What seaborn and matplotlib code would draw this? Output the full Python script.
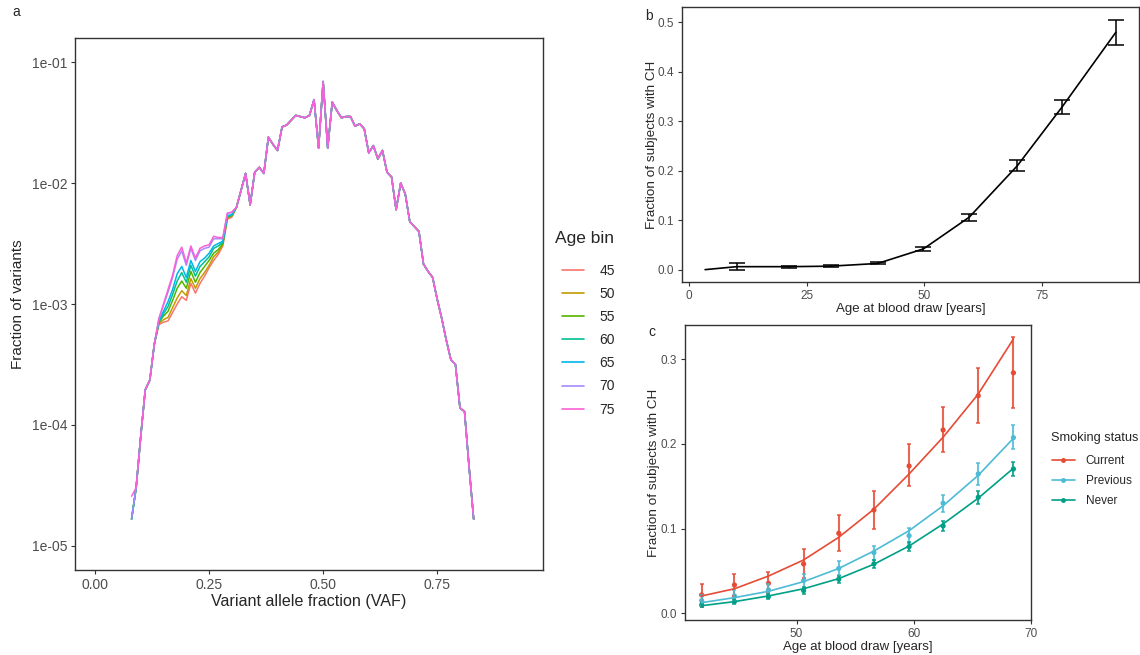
import matplotlib
matplotlib.use("Agg")
import matplotlib.pyplot as plt
import numpy as np
import pandas as pd
import seaborn as sns
from matplotlib.lines import Line2D
from matplotlib.ticker import FuncFormatter

sns.set_theme(style="ticks")
plt.rcParams["font.family"] = ["Liberation Sans", "DejaVu Sans"]

# ---- panel a: VAF spectrum per age bin (values as log10 fraction) ----
AGE_BINS = ["45", "50", "55", "60", "65", "70", "75"]
AGE_COLORS = ["#F8766D", "#C49A00", "#53B400", "#00C094", "#00B6EB", "#A58AFF", "#FB61D7"]
VAF = np.arange(8, 84) / 100
START_LOG = [-4.78, -4.78, -4.78, -4.78, -4.78, -4.78, -4.59]  # VAF 0.08
HEAD_LOG = [-4.52, -4.10, -3.71, -3.63, -3.33]  # VAF 0.09-0.13, shared
EARLY_LOG = {  # VAF 0.14-0.30
    "45": [-3.17, -3.15, -3.14, -3.07, -3.00, -2.94, -2.97, -2.83, -2.91, -2.83, -2.77, -2.70, -2.64, -2.59, -2.52, -2.30, -2.28],
    "50": [-3.16, -3.13, -3.11, -3.03, -2.95, -2.89, -2.93, -2.79, -2.87, -2.79, -2.74, -2.68, -2.61, -2.57, -2.51, -2.29, -2.27],
    "55": [-3.15, -3.10, -3.06, -2.97, -2.87, -2.81, -2.87, -2.73, -2.82, -2.74, -2.69, -2.64, -2.58, -2.55, -2.50, -2.28, -2.27],
    "60": [-3.15, -3.08, -3.02, -2.92, -2.81, -2.74, -2.82, -2.68, -2.77, -2.69, -2.65, -2.61, -2.54, -2.52, -2.49, -2.28, -2.26],
    "65": [-3.14, -3.06, -2.98, -2.88, -2.75, -2.69, -2.78, -2.64, -2.73, -2.65, -2.62, -2.58, -2.52, -2.50, -2.48, -2.27, -2.26],
    "70": [-3.12, -3.01, -2.90, -2.78, -2.63, -2.56, -2.68, -2.54, -2.64, -2.56, -2.54, -2.53, -2.46, -2.46, -2.46, -2.25, -2.24],
    "75": [-3.12, -3.00, -2.88, -2.76, -2.60, -2.53, -2.66, -2.52, -2.62, -2.54, -2.52, -2.51, -2.44, -2.45, -2.45, -2.25, -2.24],
}
TAIL_LOG = [  # VAF 0.31-0.83, shared
    -2.20, -2.06, -1.92, -2.18, -1.91, -1.87, -1.92, -1.62, -1.68, -1.73,
    -1.535, -1.52, -1.48, -1.44, -1.45, -1.46, -1.44, -1.31, -1.71, -1.16,
    -1.71, -1.33, -1.40, -1.46, -1.45, -1.45, -1.53, -1.51, -1.55, -1.75,
    -1.69, -1.80, -1.73, -1.91, -1.95, -2.22, -2.00, -2.09, -2.32, -2.36,
    -2.40, -2.67, -2.73, -2.78, -2.96, -3.12, -3.30, -3.46, -3.50, -3.86,
    -3.89, -4.35, -4.78,
]

# ---- panel b: CH prevalence by age ----
B_AGE = [3.5, 10.2, 21.3, 30.1, 40.1, 49.8, 59.5, 69.7, 79.2, 90.6]
B_FRAC = [0.0, 0.006, 0.006, 0.007, 0.0125, 0.042, 0.106, 0.210, 0.329, 0.480]
B_ERR = [0.0, 0.007, 0.002, 0.002, 0.002, 0.0045, 0.0067, 0.011, 0.0135, 0.025]

# ---- panel c: CH prevalence by smoking status ----
C_AGE = [41.9, 44.7, 47.6, 50.6, 53.6, 56.6, 59.6, 62.5, 65.5, 68.5]
SMOKING = ["Current", "Previous", "Never"]
SMOKING_COLORS = ["#E64B35", "#4DBBD5", "#00A087"]
C_POINT = {
    "Current": [0.0217, 0.0335, 0.0354, 0.0583, 0.0945, 0.122, 0.174, 0.2165, 0.257, 0.284],
    "Previous": [0.015, 0.0205, 0.0276, 0.0386, 0.053, 0.0717, 0.0917, 0.130, 0.1646, 0.2075],
    "Never": [0.0098, 0.0138, 0.0197, 0.0268, 0.0402, 0.0583, 0.0787, 0.1031, 0.137, 0.1705],
}
C_LOW = {
    "Current": [0.008, 0.020, 0.024, 0.042, 0.074, 0.100, 0.150, 0.190, 0.225, 0.243],
    "Previous": [0.009, 0.014, 0.021, 0.030, 0.045, 0.063, 0.083, 0.120, 0.152, 0.194],
    "Never": [0.0075, 0.011, 0.0165, 0.023, 0.036, 0.054, 0.074, 0.097, 0.129, 0.162],
}
C_HIGH = {
    "Current": [0.035, 0.0465, 0.049, 0.076, 0.116, 0.145, 0.200, 0.244, 0.290, 0.326],
    "Previous": [0.022, 0.027, 0.035, 0.047, 0.062, 0.080, 0.101, 0.140, 0.177, 0.222],
    "Never": [0.012, 0.017, 0.023, 0.031, 0.044, 0.063, 0.084, 0.109, 0.145, 0.179],
}
C_FIT = {
    "Current": [0.0205, 0.029, 0.044, 0.063, 0.0898, 0.123, 0.1646, 0.208, 0.259, 0.324],
    "Previous": [0.0126, 0.0185, 0.026, 0.0374, 0.053, 0.0736, 0.0976, 0.127, 0.163, 0.2067],
    "Never": [0.009, 0.0138, 0.0205, 0.029, 0.041, 0.058, 0.0795, 0.1055, 0.136, 0.1713],
}

W, H = 1140, 655
fig = plt.figure(figsize=(W / 100, H / 100), dpi=100)


def axes_at(left, top, right, bottom):
    return fig.add_axes([left / W, 1 - bottom / H, (right - left) / W, (bottom - top) / H])


def style(ax, tick_size):
    for s in ax.spines.values():
        s.set_visible(True)
        s.set_color("#333333")
        s.set_linewidth(1.0)
    ax.tick_params(colors="#333333", labelcolor="#4D4D4D", labelsize=tick_size,
                   length=3, width=0.8, pad=2.5)


# panel a
rows = []
for age in AGE_BINS:
    vals = [START_LOG[AGE_BINS.index(age)]] + HEAD_LOG + EARLY_LOG[age] + TAIL_LOG
    for v, lv in zip(VAF, vals):
        rows.append({"VAF": v, "Fraction": 10 ** lv, "Age bin": age})
df_a = pd.DataFrame(rows)

ax_a = axes_at(75, 38, 543, 570)
sns.lineplot(data=df_a, x="VAF", y="Fraction", hue="Age bin", palette=AGE_COLORS,
             linewidth=1.1, ax=ax_a, legend=False)
ax_a.set_yscale("log")
ax_a.set_ylim(10 ** -5.2, 10 ** -0.8)
ax_a.set_xlim(-0.044, 0.982)
ax_a.set_xticks([0, 0.25, 0.5, 0.75])
ax_a.set_xticklabels(["0.00", "0.25", "0.50", "0.75"])
ax_a.set_yticks([1e-5, 1e-4, 1e-3, 1e-2, 1e-1])
ax_a.yaxis.set_major_formatter(FuncFormatter(lambda v, p: f"{v:.0e}"))
ax_a.minorticks_off()
style(ax_a, 10)
ax_a.set_xlabel("Variant allele fraction (VAF)", fontsize=11.6, labelpad=2)
ax_a.set_ylabel("Fraction of variants", fontsize=11.0, labelpad=5)
fig.text(555 / W, 1 - 238 / H, "Age bin", fontsize=12.5, va="center")
handles = [Line2D([], [], color=c, lw=1.2) for c in AGE_COLORS]
fig.legend(handles, AGE_BINS, loc="upper left",
           bbox_to_anchor=(556 / W, 1 - 258 / H), frameon=False, fontsize=10,
           handlelength=1.6, handletextpad=1.15, labelspacing=0.66,
           borderaxespad=0)
fig.text(12 / W, 1 - 16 / H, "a", fontsize=10)

# panel b
ax_b = axes_at(682, 7, 1139, 282)
df_b = pd.DataFrame({"Age": B_AGE, "Frac": B_FRAC})
sns.lineplot(data=df_b, x="Age", y="Frac", color="black", linewidth=1.2, ax=ax_b)
ax_b.errorbar(B_AGE[1:], B_FRAC[1:], yerr=B_ERR[1:], fmt="none", ecolor="black",
              elinewidth=1.1, capsize=6, capthick=1.1)
ax_b.set_xlim(-1.4, 95.5)
ax_b.set_ylim(-0.025, 0.531)
ax_b.set_xticks([0, 25, 50, 75])
ax_b.set_yticks([0, 0.1, 0.2, 0.3, 0.4, 0.5])
ax_b.set_yticklabels(["0.0", "0.1", "0.2", "0.3", "0.4", "0.5"])
style(ax_b, 8.5)
ax_b.set_xlabel("Age at blood draw [years]", fontsize=9.5, labelpad=1)
ax_b.set_ylabel("Fraction of subjects with CH", fontsize=9.7, labelpad=0)
fig.text(645 / W, 1 - 20 / H, "b", fontsize=10)

# panel c
ax_c = axes_at(685, 325, 1031, 620)
fit_rows, pt_rows = [], []
for s in SMOKING:
    for a, f, p in zip(C_AGE, C_FIT[s], C_POINT[s]):
        fit_rows.append({"Age": a, "Frac": f, "Smoking status": s})
        pt_rows.append({"Age": a, "Frac": p, "Smoking status": s})
df_fit = pd.DataFrame(fit_rows)
df_pt = pd.DataFrame(pt_rows)
for s, col in zip(SMOKING, SMOKING_COLORS):
    lo = np.array(C_POINT[s]) - np.array(C_LOW[s])
    hi = np.array(C_HIGH[s]) - np.array(C_POINT[s])
    ax_c.errorbar(C_AGE, C_POINT[s], yerr=[lo, hi], fmt="none", ecolor=col,
                  elinewidth=1.5, capsize=1.5, capthick=1.2, alpha=0.85)
sns.lineplot(data=df_fit, x="Age", y="Frac", hue="Smoking status", hue_order=SMOKING,
             palette=SMOKING_COLORS, linewidth=1.2, ax=ax_c, legend=False)
sns.scatterplot(data=df_pt, x="Age", y="Frac", hue="Smoking status", hue_order=SMOKING,
                palette=SMOKING_COLORS, s=14, linewidth=0, ax=ax_c, legend=False)
ax_c.set_xlim(40.48, 70.0)
ax_c.set_ylim(-0.0079, 0.3405)
ax_c.set_xticks([50, 60, 70])
ax_c.set_yticks([0, 0.1, 0.2, 0.3])
ax_c.set_yticklabels(["0.0", "0.1", "0.2", "0.3"])
style(ax_c, 8.5)
ax_c.set_xlabel("Age at blood draw [years]", fontsize=9.5, labelpad=1)
ax_c.set_ylabel("Fraction of subjects with CH", fontsize=9.7, labelpad=0.5)
fig.text(1051 / W, 1 - 438 / H, "Smoking status", fontsize=9.2, va="center")
handles = [Line2D([], [], color=c, lw=1.2, marker="o", markersize=2.5) for c in SMOKING_COLORS]
fig.legend(handles, SMOKING, loc="upper left",
           bbox_to_anchor=(1047 / W, 1 - 450 / H), frameon=False, fontsize=8.5,
           handlelength=1.95, handletextpad=0.93, labelspacing=0.68,
           borderaxespad=0)
fig.text(648 / W, 1 - 336 / H, "c", fontsize=10)

fig.savefig("out.png", dpi=100)
